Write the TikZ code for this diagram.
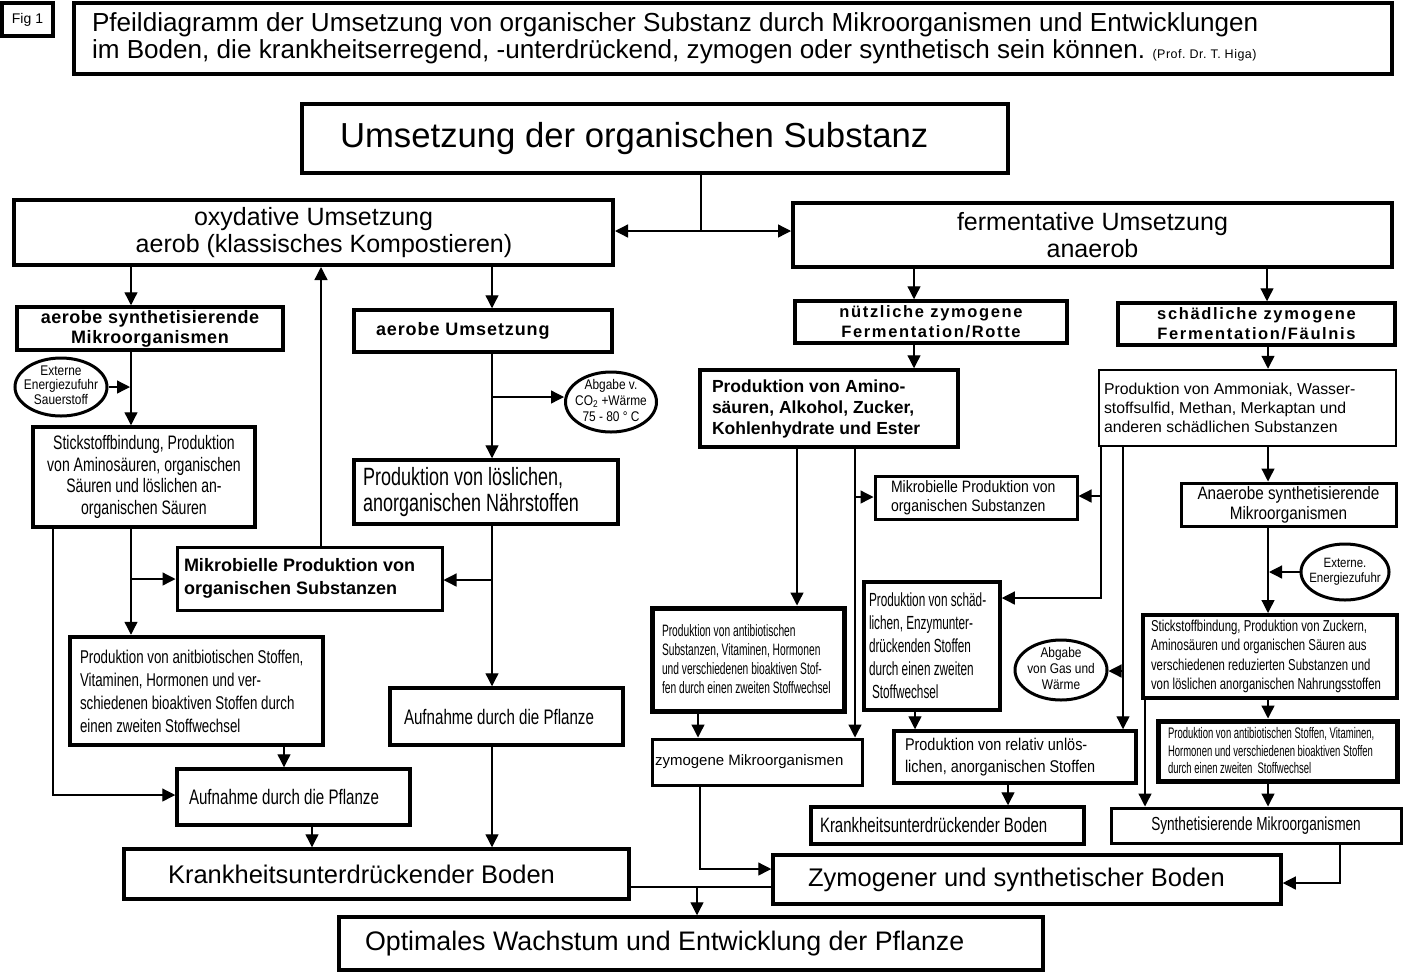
\documentclass[tikz,border=0pt]{standalone}
\usepackage{fontspec}
\setmainfont{Liberation Sans}
\newfontfamily\narA[FakeStretch=0.72]{Liberation Sans}
\newfontfamily\narB[FakeStretch=0.62]{Liberation Sans}
\newfontfamily\narC[FakeStretch=0.85]{Liberation Sans}
\usetikzlibrary{arrows.meta,shapes.geometric}
\newcommand\fsz[2]{\fontsize{#1}{#2}\selectfont}
\newcommand\lsp[1]{\addfontfeature{LetterSpace=#1}}
\newcommand\ebox[1]{\smash{\makebox[0pt]{\raisebox{-3.5pt}{\begin{tabular}{@{}c@{}}#1\end{tabular}}}}}
\frenchspacing
\begin{document}
\begin{tikzpicture}[x=1pt,y=-1pt,
  box/.style={draw, rectangle, line width=3.5pt, inner sep=0pt},
  thinbox/.style={box, line width=2.5pt},
  fatbox/.style={box, line width=5pt},
  ell/.style={draw, ellipse, line width=3pt, inner sep=0pt},
  con/.style={line width=1.3pt},
  arr/.style={con, -{Triangle[length=13pt,width=13pt]}},
  dbl/.style={con, {Triangle[length=13pt,width=13pt]}-{Triangle[length=13pt,width=13pt]}},
]
\useasboundingbox (0,0) rectangle (1404,975);
\fill[white] (0,0) rectangle (1404,975);

% ---------- header ----------
\node[box, minimum width=51pt, minimum height=33pt, font=\fsz{14}{16}] (fig) at (27.5,19.5) {Fig 1};
\node[box, line width=4.5pt, minimum width=1318pt, minimum height=71pt, text width=1282pt, align=flush left, font=\fsz{26.1}{27}] (title) at (733,38.5)
 {Pfeildiagramm der Umsetzung von organischer Substanz durch Mikroorganismen und Entwicklungen\\
  im Boden, die krankheitserregend, -unterdrückend, zymogen oder synthetisch sein können. {\fsz{12.5}{12}\addfontfeature{LetterSpace=4}(Prof. Dr. T. Higa)}};

\node[box, line width=4pt, minimum width=706pt, minimum height=69pt, text width=630pt, align=flush left, font=\fsz{34.7}{38}] (main) at (655,138.5) {Umsetzung der organischen Substanz};

\node[box, line width=4pt, minimum width=599pt, minimum height=65pt, text width=560pt, align=flush center, font=\fsz{25}{27}] (oxy) at (313.5,232.5)
 {oxydative Umsetzung\hspace*{61pt}\\\hspace*{21pt}aerob (klassisches Kompostieren)};
\node[box, line width=4pt, minimum width=599pt, minimum height=64pt, text width=560pt, align=flush center, font=\fsz{25}{27}] (ferm) at (1092.5,235)
 {fermentative Umsetzung\hspace*{35pt}\\anaerob\hspace*{17pt}};

% ---------- left (aerob) ----------
\node[box, minimum width=266pt, minimum height=43pt, text width=250pt, align=flush center, font=\bfseries\fsz{18}{20}\lsp{3}] (asm) at (150,328.5)
 {aerobe synthetisierende\\Mikroorganismen};
\node[box, minimum width=258pt, minimum height=42pt, text width=214pt, align=flush left, font=\bfseries\fsz{18}{20}\lsp{5}] (aum) at (483,331) {aerobe Umsetzung};
\node[ell, minimum width=92pt, minimum height=58pt, font=\narC\fsz{14}{14.5}] (ext1) at (61,387) {\ebox{Externe\\Energiezufuhr\\Sauerstoff}};
\node[ell, minimum width=91pt, minimum height=60pt, font=\narC\fsz{14}{16}] (co2) at (611,402) {\ebox{Abgabe v.\\CO\textsubscript{2} +Wärme\\75 - 80 ° C}};
\node[box, minimum width=222pt, minimum height=100pt, text width=215pt, align=flush center, font=\narA\fsz{19.5}{21.7}] (stick1) at (144,477)
 {Stickstoffbindung, Produktion\hspace*{20pt}\\von Aminosäuren, organischen\hspace*{20pt}\\Säuren und löslichen an-\hspace*{20pt}\\organischen Säuren\hspace*{20pt}};
\node[box, minimum width=264pt, minimum height=64pt, text width=246pt, align=flush left, font=\narA\fsz{25}{26}] (loes) at (486,492)
 {Produktion von löslichen,\\anorganischen Nährstoffen};
\node[box, line width=3pt, minimum width=265pt, minimum height=63pt, text width=251pt, align=flush left, font=\bfseries\fsz{18}{23}] (mik1) at (309.5,578.5)
 {Mikrobielle Produktion von\\organischen Substanzen};
\node[box, line width=4.5pt, minimum width=253pt, minimum height=108pt, text width=233pt, align=flush left, font=\narA\fsz{18.5}{23}] (anti1) at (196.5,691)
 {Produktion von anitbiotischen Stoffen,\\Vitaminen, Hormonen und ver-\\schiedenen bioaktiven Stoffen durch\\einen zweiten Stoffwechsel};
\node[box, minimum width=233pt, minimum height=56pt, text width=209pt, align=flush left, font=\narA\fsz{21}{23}] (auf1) at (293.5,797) {Aufnahme durch die Pflanze};
\node[box, minimum width=233pt, minimum height=57pt, text width=205pt, align=flush left, font=\narA\fsz{21}{23}] (auf2) at (506.5,716.5) {Aufnahme durch die Pflanze};
\node[box, minimum width=505pt, minimum height=50pt, text width=417pt, align=flush left, font=\fsz{25.5}{27}] (kub) at (376.5,874) {Krankheitsunterdrückender Boden};
\node[box, minimum width=704pt, minimum height=53pt, text width=652pt, align=flush left, font=\fsz{26.8}{28}] (opt) at (691,943.5) {Optimales Wachstum und Entwicklung der Pflanze};
\node[box, minimum width=508pt, minimum height=49pt, text width=438pt, align=flush left, font=\fsz{25.5}{27}] (zsb) at (1027,879.5) {Zymogener und synthetischer Boden};

% ---------- right (anaerob) ----------
\node[box, minimum width=272pt, minimum height=42pt, text width=260pt, align=flush center, font=\bfseries\fsz{16.5}{20}\lsp{10}] (nzf) at (931,322)
 {nützliche zymogene\hspace*{14pt}\\Fermentation/Rotte\hspace*{14pt}};
\node[box, minimum width=277pt, minimum height=42pt, text width=265pt, align=flush center, font=\bfseries\fsz{16.5}{20}\lsp{10}] (szf) at (1256.5,324)
 {schädliche zymogene\hspace*{22pt}\\Fermentation/Fäulnis\hspace*{22pt}};
\node[box, minimum width=258pt, minimum height=77pt, text width=234pt, align=flush left, font=\bfseries\fsz{17.5}{21}] (pam) at (829,408.5)
 {Produktion von Amino-\\säuren, Alkohol, Zucker,\\Kohlenhydrate und Ester};
\node[thinbox, minimum width=297pt, minimum height=76pt, text width=287pt, align=flush left, font=\fsz{15.8}{19}] (pamm) at (1247.5,408)
 {Produktion von Ammoniak, Wasser-\\stoffsulfid, Methan, Merkaptan und\\anderen schädlichen Substanzen\\[6pt]};
\node[box, line width=3pt, minimum width=202pt, minimum height=43pt, text width=170pt, align=flush left, font=\narC\fsz{16.5}{19}] (mik2) at (976,497.5)
 {Mikrobielle Produktion von\\organischen Substanzen};
\node[box, line width=3pt, minimum width=215pt, minimum height=43pt, text width=210pt, align=flush center, font=\narC\fsz{18}{20}] (asm2) at (1288.5,504.5)
 {Anaerobe synthetisierende\hspace*{10pt}\\Mikroorganismen\hspace*{10pt}};
\node[ell, minimum width=88pt, minimum height=56pt, font=\narC\fsz{13.5}{15}] (ext2) at (1345,572) {\ebox{Externe.\\Energiezufuhr}};
\node[fatbox, minimum width=192pt, minimum height=103pt, text width=172pt, align=flush left, font=\narB\fsz{16.5}{19}] (anti2) at (748,659.5)
 {Produktion von antibiotischen\\Substanzen, Vitaminen, Hormonen\\und verschiedenen bioaktiven Stof-\\fen durch einen zweiten Stoffwechsel};
\node[box, minimum width=136pt, minimum height=128pt, text width=126pt, align=flush left, font=\narB\fsz{19}{23}] (schad) at (932,646)
 {Produktion von schäd-\\lichen, Enzymunter-\\drückenden Stoffen\\durch einen zweiten\\\hspace*{3pt}Stoffwechsel};
\node[ell, minimum width=92pt, minimum height=60pt, font=\narC\fsz{14}{16}] (gas) at (1061,670) {\ebox{Abgabe\\von Gas und\\Wärme}};
\node[box, line width=3pt, minimum width=210pt, minimum height=46pt, text width=204pt, align=flush left, font=\fsz{15}{17}] (zym) at (757,762) {zymogene Mikroorganismen};
\node[box, minimum width=242pt, minimum height=52pt, text width=220pt, align=flush left, font=\narC\fsz{17}{22}] (rel) at (1015,757)
 {Produktion von relativ unlös-\\lichen, anorganischen Stoffen};
\node[box, minimum width=273pt, minimum height=37pt, text width=255pt, align=flush left, font=\narA\fsz{20.8}{22}] (kub2) at (947.5,825.5) {Krankheitsunterdrückender Boden};
\node[box, line width=4pt, minimum width=254pt, minimum height=83pt, text width=238pt, align=flush left, font=\narA\fsz{15.8}{19.3}] (stick2) at (1270,656.5)
 {Stickstoffbindung, Produktion von Zuckern,\\Aminosäuren und organischen Säuren aus\\verschiedenen reduzierten Substanzen und\\von löslichen anorganischen Nahrungsstoffen};
\node[fatbox, minimum width=239pt, minimum height=60pt, text width=219pt, align=flush left, font=\narB\fsz{15.3}{17.5}] (anti3) at (1277.5,751)
 {Produktion von antibiotischen Stoffen, Vitaminen,\\Hormonen und verschiedenen bioaktiven Stoffen\\durch einen zweiten\ \ Stoffwechsel};
\node[box, line width=3pt, minimum width=290pt, minimum height=35pt, text width=280pt, align=flush center, font=\narA\fsz{18.9}{20}] (syn) at (1256,825.5)
 {Synthetisierende Mikroorganismen\hspace*{12pt}};

% ---------- connectors ----------
\draw[con] (main.south -| 701,0) -- (701,231);
\draw[dbl] (oxy.east |- 0,231) -- (ferm.west |- 0,231);

\draw[arr] (oxy.south -| 131,0) -- (asm.north -| 131,0);
\draw[arr] (oxy.south -| 492,0) -- (aum.north -| 492,0);
\draw[arr] (asm.south -| 131,0) -- (stick1.north -| 131,0);
\draw[arr] (ext1.east) -- (130,387);
\draw[arr] (stick1.south -| 131,0) -- (anti1.north -| 131,0);
\draw[arr] (131,579) -- (mik1.west |- 0,579);
\draw[arr] (stick1.south -| 53,0) |- (auf1.west |- 0,795);
\draw[arr] (mik1.north -| 321,0) -- (oxy.south -| 321,0);
\draw[arr] (aum.south -| 492,0) -- (loes.north -| 492,0);
\draw[arr] (492,397) -- (co2.west |- 0,397);
\draw[arr] (loes.south -| 492,0) -- (auf2.north -| 492,0);
\draw[arr] (492,580) -- (mik1.east |- 0,580);
\draw[arr] (anti1.south -| 284,0) -- (auf1.north -| 284,0);
\draw[arr] (auf1.south -| 312,0) -- (kub.north -| 312,0);
\draw[arr] (auf2.south -| 492,0) -- (kub.north -| 492,0);
\draw[con] (kub.east |- 0,887) -- (zsb.west |- 0,887);
\draw[arr] (697,887) -- (opt.north -| 697,0);
\draw[arr] (zym.south -| 700,0) |- (zsb.west |- 0,869);

\draw[arr] (ferm.south -| 914,0) -- (nzf.north -| 914,0);
\draw[arr] (ferm.south -| 1267,0) -- (szf.north -| 1267,0);
\draw[arr] (nzf.south -| 914,0) -- (pam.north -| 914,0);
\draw[arr] (szf.south -| 1268,0) -- (pamm.north -| 1268,0);
\draw[arr] (pam.south -| 797,0) -- (anti2.north -| 797,0);
\draw[arr] (pam.south -| 855,0) -- (zym.north -| 855,0);
\draw[arr] (855,497) -- (mik2.west |- 0,497);
\draw[arr] (pamm.south -| 1101,0) |- (schad.east |- 0,598);
\draw[arr] (1101,496) -- (mik2.east |- 0,496);
\draw[arr] (pamm.south -| 1123,0) -- (rel.north -| 1123,0);
\draw[arr] (1123,671) -- (gas.east |- 0,671);
\draw[arr] (pamm.south -| 1268,0) -- (asm2.north -| 1268,0);
\draw[arr] (asm2.south -| 1268,0) -- (stick2.north -| 1268,0);
\draw[arr] (ext2.west) -- (1269,572);
\draw[arr] (anti2.south -| 698,0) -- (zym.north -| 698,0);
\draw[arr] (schad.south -| 915,0) -- (rel.north -| 915,0);
\draw[arr] (rel.south -| 1008,0) -- (kub2.north -| 1008,0);
\draw[arr] (stick2.south -| 1268,0) -- (anti3.north -| 1268,0);
\draw[arr] (stick2.south -| 1145,0) -- (syn.north -| 1145,0);
\draw[arr] (anti3.south -| 1268,0) -- (syn.north -| 1268,0);
\draw[arr] (syn.south -| 1340,0) |- (zsb.east |- 0,883);
\end{tikzpicture}
\end{document}
